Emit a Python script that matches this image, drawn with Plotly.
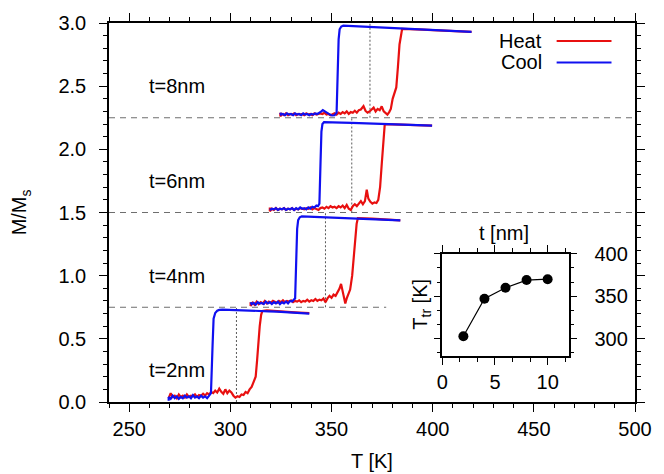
import plotly.graph_objects as go

# Film thicknesses (nm) and the vertical offset used to stack each M/Ms loop
thickness_nm = [2, 4, 6, 8]
stack_offset = [0.0, 0.75, 1.5, 2.25]

# Transition temperatures vs. thickness (inset)
t_inset = [2, 4, 6, 8, 10]
T_tr = [303, 347, 360, 369, 370]

# Loops as (T [K], M/Ms) pairs, M/Ms measured relative to each stack offset
heat_2nm = [(269.5, 0.03), (270.5, 0.07), (271.5, 0.04), (272.5, 0.05), (273.5, 0.03), (274.5, 0.06),
            (275.5, 0.04), (276.5, 0.05), (277.5, 0.035), (278.5, 0.06), (279.5, 0.04), (280.5, 0.05),
            (281.5, 0.045), (282.5, 0.06), (283.5, 0.04), (284.5, 0.055), (285.5, 0.05), (286.5, 0.065),
            (287.5, 0.05), (288.5, 0.07), (289.5, 0.06), (290.5, 0.08), (291.5, 0.07), (292.5, 0.09),
            (293.5, 0.075), (294.5, 0.105), (295.5, 0.08), (296.5, 0.065), (297.5, 0.1), (298.5, 0.07),
            (299.5, 0.09), (300.5, 0.075), (301.5, 0.05), (302.5, 0.035), (303.5, 0.045), (304.5, 0.04),
            (305.5, 0.06), (306.5, 0.055), (307.5, 0.08), (308.5, 0.07), (309.5, 0.1), (310.5, 0.12),
            (311.5, 0.16), (312.5, 0.2), (313.2, 0.33), (313.8, 0.48), (314.5, 0.6), (315.2, 0.69),
            (315.8, 0.72), (318, 0.726), (322, 0.72), (326, 0.716), (330, 0.712), (334, 0.708), (339, 0.703)]
cool_2nm = [(339, 0.700), (335, 0.705), (331, 0.708), (327, 0.712), (323, 0.715), (319, 0.718),
            (315, 0.721), (311, 0.722), (307, 0.726), (303, 0.727), (299, 0.729), (296, 0.731),
            (294.5, 0.729), (293.5, 0.722), (292.5, 0.705), (291.7, 0.66), (291.2, 0.45), (290.8, 0.2),
            (290.4, 0.07), (289.5, 0.05), (288.5, 0.03), (287.5, 0.045), (286.5, 0.035), (285.5, 0.05),
            (284.5, 0.03), (283.5, 0.045), (282.5, 0.035), (281.5, 0.055), (280.5, 0.03), (279.5, 0.045),
            (278.5, 0.035), (277.5, 0.05), (276.5, 0.03), (275.5, 0.04), (274.5, 0.025), (273.5, 0.045),
            (272.5, 0.03), (271.5, 0.05), (270.5, 0.025), (269.5, 0.04), (269.5, 0.01)]

heat_4nm = [(310, 0.04), (310, 0.01), (311, 0.035), (312, 0.02), (313, 0.045), (314, 0.025), (315, 0.04),
            (316, 0.03), (317, 0.05), (318, 0.03), (319, 0.045), (320, 0.035), (321, 0.05), (322, 0.04),
            (323, 0.035), (324, 0.05), (325, 0.04), (326, 0.055), (327, 0.04), (328, 0.05), (329, 0.045),
            (330, 0.055), (331, 0.04), (332, 0.05), (333, 0.045), (334, 0.055), (335, 0.04), (336, 0.05),
            (337, 0.045), (338, 0.06), (339, 0.045), (340, 0.055), (341, 0.05), (342, 0.065), (343, 0.05),
            (344, 0.06), (345, 0.055), (346, 0.07), (347, 0.04), (348, 0.07), (349, 0.09), (350, 0.075),
            (351, 0.1), (352, 0.09), (353, 0.12), (354, 0.15), (354.7, 0.185), (355.5, 0.12), (356.2, 0.06),
            (356.8, 0.03), (357.5, 0.07), (358.3, 0.1), (359.2, 0.14), (360.2, 0.25), (361, 0.4),
            (361.8, 0.55), (362.4, 0.66), (363, 0.705), (366, 0.705), (370, 0.701), (374, 0.697),
            (378, 0.693), (384, 0.687)]
cool_4nm = [(384, 0.687), (380, 0.690), (376, 0.694), (372, 0.698), (368, 0.701), (364, 0.704),
            (360, 0.707), (356, 0.71), (352, 0.712), (348, 0.714), (344, 0.716), (340, 0.718), (337, 0.72),
            (335.3, 0.72), (334.3, 0.712), (333.5, 0.69), (333, 0.62), (332.6, 0.4), (332.3, 0.15),
            (332, 0.07), (331.3, 0.06), (330.5, 0.045), (329.5, 0.05), (328.5, 0.03), (327.5, 0.045),
            (326.5, 0.03), (325.5, 0.04), (324.5, 0.025), (323.5, 0.045), (322.5, 0.03), (321.5, 0.04),
            (320.5, 0.025), (319.5, 0.04), (318.5, 0.03), (317.5, 0.045), (316.5, 0.025), (315.5, 0.035),
            (314.5, 0.03), (313.5, 0.04), (312.5, 0.02), (311.5, 0.035), (310.5, 0.025), (310, 0.04)]

heat_6nm = [(319.5, 0.04), (319.5, 0.01), (320.5, 0.03), (321.5, 0.02), (322.5, 0.035), (323.5, 0.02),
            (324.5, 0.03), (325.5, 0.025), (326.5, 0.035), (327.5, 0.02), (328.5, 0.03), (329.5, 0.025),
            (330.5, 0.035), (331.5, 0.02), (332.5, 0.03), (333.5, 0.025), (334.5, 0.035), (335.5, 0.03),
            (336.5, 0.025), (337.5, 0.035), (338.5, 0.03), (339.5, 0.04), (340.5, 0.025), (341.5, 0.035),
            (342.5, 0.03), (343.5, 0.02), (344.5, 0.035), (345.5, 0.04), (346.5, 0.03), (347.5, 0.045),
            (348.5, 0.035), (349.5, 0.05), (350.5, 0.04), (351.5, 0.045), (352.5, 0.035), (353.5, 0.05),
            (354.5, 0.04), (355.5, 0.055), (356.5, 0.035), (357.5, 0.06), (358.5, 0.03), (359.5, 0.02),
            (360.5, 0.05), (361.5, 0.065), (362.5, 0.05), (363.5, 0.07), (364.5, 0.09), (365.5, 0.065),
            (366.5, 0.09), (367.4, 0.18), (368.2, 0.11), (369.2, 0.085), (370.2, 0.07), (371.2, 0.08),
            (372.2, 0.075), (373.1, 0.1), (374, 0.2), (374.8, 0.38), (375.6, 0.58), (376.3, 0.70),
            (380, 0.698), (385, 0.695), (390, 0.692), (395, 0.69), (399.7, 0.687)]
cool_6nm = [(399.7, 0.687), (395, 0.689), (390, 0.692), (385, 0.695), (380, 0.698), (375, 0.700),
            (370, 0.703), (365, 0.706), (360, 0.709), (355, 0.712), (350, 0.715), (347.3, 0.718),
            (346.3, 0.716), (345.5, 0.70), (345, 0.64), (344.6, 0.42), (344.3, 0.18), (344, 0.07),
            (343.3, 0.05), (342.5, 0.055), (341.5, 0.04), (340.5, 0.045), (339.5, 0.03), (338.5, 0.04),
            (337.5, 0.025), (336.5, 0.035), (335.5, 0.03), (334.5, 0.04), (333.5, 0.025), (332.5, 0.035),
            (331.5, 0.02), (330.5, 0.035), (329.5, 0.025), (328.5, 0.03), (327.5, 0.02), (326.5, 0.035),
            (325.5, 0.025), (324.5, 0.03), (323.5, 0.02), (322.5, 0.035), (321.5, 0.025), (320.5, 0.03),
            (319.5, 0.02)]

heat_8nm = [(324.7, 0.04), (324.7, 0.01), (325.5, 0.03), (326.5, 0.02), (327.5, 0.035), (328.5, 0.02),
            (329.5, 0.03), (330.5, 0.025), (331.5, 0.035), (332.5, 0.02), (333.5, 0.03), (334.5, 0.025),
            (335.5, 0.03), (336.5, 0.02), (337.5, 0.035), (338.5, 0.025), (339.5, 0.03), (340.5, 0.02),
            (341.5, 0.035), (342.5, 0.025), (343.5, 0.03), (344.5, 0.035), (345.5, 0.03), (346.5, 0.04),
            (347.5, 0.025), (348.5, 0.03), (349.5, 0.02), (350.5, 0.025), (351.5, 0.035), (352.5, 0.025),
            (353.5, 0.04), (354.5, 0.03), (355.5, 0.045), (356.5, 0.035), (357.5, 0.05), (358.5, 0.03),
            (359.5, 0.045), (360.5, 0.04), (361.5, 0.055), (362.5, 0.04), (363.5, 0.06), (364.5, 0.065),
            (365.8, 0.092), (366.8, 0.055), (367.8, 0.04), (368.8, 0.05), (369.8, 0.065), (370.8, 0.08),
            (371.8, 0.05), (372.8, 0.07), (373.8, 0.06), (374.8, 0.09), (375.8, 0.05), (376.8, 0.035),
            (377.6, 0.025), (378.5, 0.045), (379.3, 0.07), (380.2, 0.15), (381, 0.2), (382, 0.24),
            (382.8, 0.4), (383.6, 0.58), (384.9, 0.703), (390, 0.702), (395, 0.698), (400, 0.694),
            (405, 0.69), (410, 0.686), (415, 0.682), (419.2, 0.679)]
cool_8nm = [(419.2, 0.679), (415, 0.682), (410, 0.686), (405, 0.69), (400, 0.694), (395, 0.698),
            (390, 0.702), (385, 0.706), (380, 0.71), (375, 0.714), (370, 0.718), (365, 0.722), (360, 0.726),
            (357, 0.729), (355.8, 0.729), (354.8, 0.722), (354, 0.70), (353.5, 0.62), (353.1, 0.38),
            (352.8, 0.15), (352.5, 0.04), (351.5, 0.02), (350.2, 0.018), (349.2, 0.025), (348.2, 0.035),
            (347.2, 0.045), (346.4, 0.055), (345.7, 0.06), (345, 0.05), (344, 0.04), (343, 0.03),
            (342, 0.035), (341, 0.025), (340, 0.03), (339, 0.02), (338, 0.03), (337, 0.025), (336, 0.035),
            (335, 0.02), (334, 0.03), (333, 0.025), (332, 0.035), (331, 0.02), (330, 0.03), (329, 0.025),
            (328, 0.035), (327, 0.02), (326, 0.03), (325, 0.025), (324.7, 0.04)]

heat_loops = [heat_2nm, heat_4nm, heat_6nm, heat_8nm]
cool_loops = [cool_2nm, cool_4nm, cool_6nm, cool_8nm]

RED = "rgb(232,16,16)"
BLUE = "rgb(16,16,240)"
FONT = "Liberation Sans, Arial, Helvetica, sans-serif"

W, H = 664, 474
ML, MR, MT, MB = 109, 18, 22, 72
PW, PH = W - ML - MR, H - MT - MB


def paper_x(px):
    return (px - ML) / PW


def paper_y(py):
    return (H - MB - py) / PH


fig = go.Figure()

for off, heat, cool in zip(stack_offset, heat_loops, cool_loops):
    fig.add_trace(go.Scatter(x=[p[0] for p in heat], y=[off + p[1] for p in heat],
                             mode="lines", line=dict(color=RED, width=2.2), hoverinfo="skip"))
    fig.add_trace(go.Scatter(x=[p[0] for p in cool], y=[off + p[1] for p in cool],
                             mode="lines", line=dict(color=BLUE, width=2.2), hoverinfo="skip"))

# Inset: transition temperature vs thickness
fig.add_trace(go.Scatter(x=t_inset, y=T_tr, xaxis="x2", yaxis="y2", mode="lines+markers",
                         line=dict(color="black", width=1.2),
                         marker=dict(color="black", size=10), hoverinfo="skip"))

shapes = []
# Stack separators
for off in stack_offset[1:]:
    shapes.append(dict(type="line", xref="x domain", yref="y", x0=0, x1=1, y0=off, y1=off,
                       line=dict(color="rgb(110,110,110)", width=1, dash="6px,5px"), layer="below"))
# Transition temperature markers within each loop
for off, Ttr in zip(stack_offset, T_tr):
    shapes.append(dict(type="line", xref="x", yref="y", x0=Ttr, x1=Ttr, y0=off, y1=off + 0.75,
                       line=dict(color="rgb(90,90,90)", width=1, dash="2px,2px"), layer="below"))
# White backing panel behind the inset
shapes.append(dict(type="rect", xref="paper", yref="paper", x0=paper_x(392), x1=paper_x(645),
                   y0=paper_y(400), y1=paper_y(222), line=dict(width=0), fillcolor="white", layer="below"))
# Legend samples
for py, col in [(40, RED), (61.5, BLUE)]:
    shapes.append(dict(type="line", xref="paper", yref="paper", x0=paper_x(566), x1=paper_x(622),
                       y0=paper_y(py), y1=paper_y(py), line=dict(color=col, width=2)))

annotations = []
for t, off in zip(thickness_nm, stack_offset):
    annotations.append(dict(x=259, y=off + 0.25, xref="x", yref="y", text=f"t={t}nm", showarrow=False,
                            xanchor="left", yanchor="middle", font=dict(size=20)))
for py, label in [(40, "Heat"), (61.5, "Cool")]:
    annotations.append(dict(x=paper_x(553), y=paper_y(py), xref="paper", yref="paper", text=label,
                            showarrow=False, xanchor="right", yanchor="middle", font=dict(size=20)))
annotations += [
    dict(x=paper_x(377.5), y=paper_y(461), xref="paper", yref="paper", text="T [K]", showarrow=False,
         xanchor="center", yanchor="middle", font=dict(size=20)),
    dict(x=paper_x(19), y=paper_y(212), xref="paper", yref="paper", text="M/M<sub>s</sub>", showarrow=False,
         textangle=-90, xanchor="center", yanchor="middle", font=dict(size=20)),
    dict(x=paper_x(512), y=paper_y(233), xref="paper", yref="paper", text="t [nm]", showarrow=False,
         xanchor="center", yanchor="middle", font=dict(size=20)),
    dict(x=paper_x(428), y=paper_y(304), xref="paper", yref="paper", text="T<sub>tr</sub> [K]",
         showarrow=False, textangle=-90, xanchor="center", yanchor="middle", font=dict(size=20)),
]

axis_common = dict(showline=True, linecolor="black", linewidth=1.5, mirror="ticks", ticks="outside",
                   tickcolor="black", tickwidth=1.2, showgrid=False, zeroline=False,
                   tickfont=dict(size=20, color="black"))

fig.update_layout(
    width=W, height=H,
    margin=dict(l=ML, r=MR, t=MT, b=MB, pad=0),
    paper_bgcolor="white", plot_bgcolor="white",
    font=dict(family=FONT, color="black"),
    showlegend=False,
    xaxis=dict(range=[240, 500], tick0=250, dtick=50, ticklen=8,
               minor=dict(dtick=10, ticklen=4, ticks="outside", tickcolor="black", tickwidth=1.2),
               **axis_common),
    yaxis=dict(range=[0, 3], tick0=0, dtick=0.5, tickformat=".1f", ticklen=8, ticklabelstandoff=9,
               minor=dict(dtick=0.1, ticklen=4, ticks="outside", tickcolor="black", tickwidth=1.2),
               **axis_common),
    xaxis2=dict(domain=[paper_x(449.3), paper_x(578.3)], anchor="y2", range=[0, 12], tick0=0, dtick=5,
                ticklen=7, minor=dict(tick0=0, dtick=5 / 3, ticklen=4, ticks="outside",
                                      tickcolor="black", tickwidth=1.2),
                **axis_common),
    yaxis2=dict(domain=[paper_y(355.7), paper_y(253.3)], anchor="x2", side="right", range=[280, 400],
                tick0=300, dtick=50, ticklen=7, ticklabelstandoff=13,
                minor=dict(tick0=300, dtick=50 / 3, ticklen=4, ticks="outside",
                           tickcolor="black", tickwidth=1.2),
                **axis_common),
    shapes=shapes,
    annotations=annotations,
)

fig.write_html("out.html")
